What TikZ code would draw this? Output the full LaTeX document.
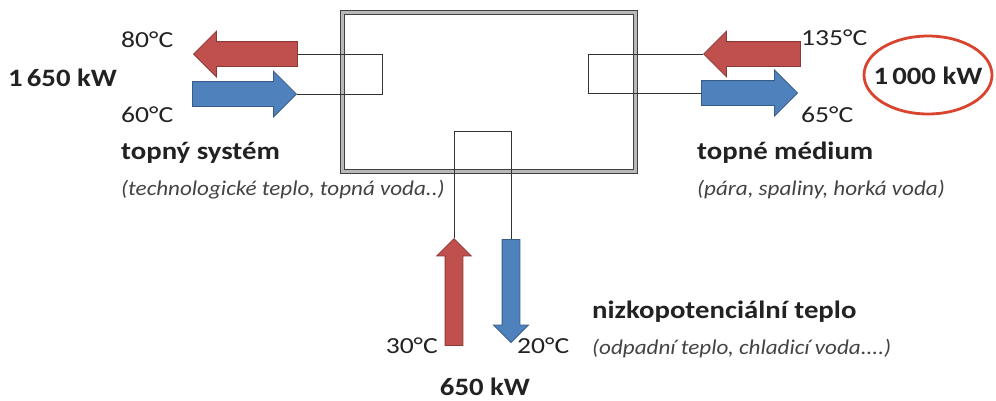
\documentclass[tikz,border=0pt]{standalone}
\usepackage{fontspec}
\setmainfont{Carlito}
\newfontfamily\regwide[FakeStretch=1.2]{Carlito}
\newfontfamily\boldwide[FakeStretch=1.15]{Carlito Bold}
\newfontfamily\itwide[FakeStretch=1.1]{Carlito Italic}
\usetikzlibrary{shapes.arrows,shapes.geometric}
\definecolor{hotred}{HTML}{C0504D}
\definecolor{hotredd}{HTML}{8C3836}
\definecolor{coldblue}{HTML}{4F81BD}
\definecolor{coldblued}{HTML}{385D8A}
\definecolor{ringred}{HTML}{D9442E}
\definecolor{txt}{HTML}{222222}
\tikzset{
  harrow/.style={single arrow, draw, line width=0.8pt, inner xsep=0pt, inner ysep=12pt,
    single arrow head extend=10.5pt, single arrow tip angle=90, anchor=tip},
  varrow/.style={single arrow, draw, line width=0.8pt, inner xsep=8.5pt, inner ysep=0pt,
    single arrow head extend=8.5pt, single arrow tip angle=90, anchor=tip},
  hot/.style={fill=hotred, draw=hotredd},
  cold/.style={fill=coldblue, draw=coldblued},
  pipe/.style={draw=black!80, line width=1pt},
  lbl/.style={font=\regwide\fontsize{23}{26}\selectfont, text=txt, inner sep=0pt},
  blbl/.style={font=\boldwide\fontsize{25}{28}\selectfont, text=txt, inner sep=0pt},
  ilbl/.style={font=\itwide\fontsize{21}{24}\selectfont, text=txt!85, inner sep=0pt},
}
\begin{document}
\begin{tikzpicture}[x=1pt,y=-1pt]
\useasboundingbox (0,0) rectangle (996,400);
% heat exchanger
\node[draw=black!75, line width=1.5pt, double=gray!55, double distance=2.8pt,
  minimum width=293pt, minimum height=159pt, inner sep=0pt] (hx) at (489,92) {};
% arrows
\node[harrow, hot, minimum height=104pt, shape border rotate=180] (redL) at (193,54) {};
\node[harrow, cold, minimum height=104pt] (blueL) at (297,94) {};
\node[harrow, hot, minimum height=97pt, shape border rotate=180] (redR) at (703,54) {};
\node[harrow, cold, minimum height=96pt] (blueR) at (798,93) {};
\node[varrow, hot, minimum height=107pt, shape border rotate=90] (redB) at (454,238) {};
\node[varrow, cold, minimum height=103pt, shape border rotate=270] (blueB) at (511,343) {};
% pipe coordinates
\coordinate (lc) at (382,54);
\coordinate (rc) at (588,54);
\coordinate (bc) at (0,131);
\draw[pipe] (redL.tail) -- (lc) |- (blueL.tip);
\draw[pipe] (redR.tip) -- (rc) |- (blueR.tail);
\draw[pipe] (redB.tip) -- (redB.tip |- bc) -- (blueB.tail |- bc) -- (blueB.tail);
% left labels
\node[lbl, anchor=west] (t80) at (121,40) {80°C};
\node[blbl, anchor=west] (p1650) at (8,78) {1\,650 kW};
\node[lbl, anchor=west] (t60) at (121,115) {60°C};
\node[blbl, anchor=west] (ts) at (121,153) {topný systém};
\node[ilbl, anchor=west] (tsd) at (121,190) {(technologické teplo, topná voda..)};
% right labels
\node[lbl, anchor=west] (t135) at (801,38) {135°C};
\node[lbl, anchor=west] (t65) at (801,115) {65°C};
\node[blbl, anchor=west] (tm) at (697,153) {topné médium};
\node[ilbl, anchor=west] (tmd) at (697,190) {(pára, spaliny, horká voda)};
\node[draw=ringred, line width=2.8pt, ellipse, minimum width=128pt, minimum height=78pt, inner sep=0pt] (ell) at (928,75) {};
\node[blbl] (p1000) at (928,76) {1\,000 kW};
% bottom labels
\node[lbl, anchor=east] (t30) at (438,346) {30°C};
\node[lbl, anchor=west] (t20) at (517,346) {20°C};
\node[blbl] (p650) at (485,387) {650 kW};
\node[blbl, anchor=west] (np) at (592,312) {nizkopotenciální teplo};
\node[ilbl, anchor=west] (npd) at (592,349) {(odpadní teplo, chladicí voda....)};
\end{tikzpicture}
\end{document}
